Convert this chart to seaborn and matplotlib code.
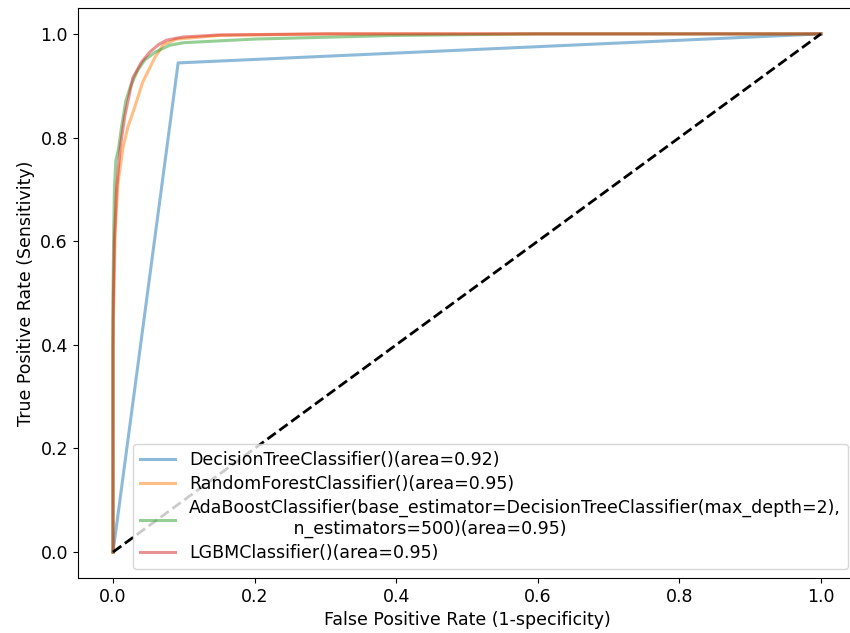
import pandas as pd
import seaborn as sns
import matplotlib.pyplot as plt

# ROC points
dt_fpr = [0.0, 0.092, 1.0]
dt_tpr = [0.0, 0.944, 1.0]

rf_fpr = [0.0, 0.0, 0.003, 0.007, 0.014, 0.021, 0.031, 0.042, 0.059, 0.071, 0.09, 0.15, 0.3, 1.0]
rf_tpr = [0.0, 0.40, 0.616, 0.712, 0.78, 0.82, 0.86, 0.907, 0.954, 0.979, 0.99, 0.997, 1.0, 1.0]

ada_fpr = [0.0, 0.0, 0.001, 0.002, 0.004, 0.008, 0.012, 0.018, 0.025, 0.035, 0.045, 0.06, 0.08, 0.1, 0.2, 0.4, 0.6, 1.0]
ada_tpr = [0.0, 0.50, 0.62, 0.70, 0.755, 0.78, 0.82, 0.87, 0.90, 0.93, 0.95, 0.965, 0.978, 0.983, 0.99, 0.997, 1.0, 1.0]

lgbm_fpr = [0.0, 0.0, 0.002, 0.005, 0.01, 0.017, 0.028, 0.04, 0.052, 0.065, 0.076, 0.099, 0.151, 0.3, 1.0]
lgbm_tpr = [0.0, 0.45, 0.60, 0.70, 0.78, 0.844, 0.915, 0.945, 0.965, 0.98, 0.988, 0.994, 0.998, 1.0, 1.0]

names = [
    "DecisionTreeClassifier()",
    "RandomForestClassifier()",
    "AdaBoostClassifier(base_estimator=DecisionTreeClassifier(max_depth=2),\n"
    "                   n_estimators=500)",
    "LGBMClassifier()",
]
aucs = [0.92, 0.95, 0.95, 0.95]
curves = [(dt_fpr, dt_tpr), (rf_fpr, rf_tpr), (ada_fpr, ada_tpr), (lgbm_fpr, lgbm_tpr)]
colors = ["tab:blue", "tab:orange", "tab:green", "tab:red"]

plt.rcParams['font.size'] = 12.5

fig = plt.figure(figsize=(8.5, 6.33), dpi=100)
ax = fig.add_axes([0.0913, 0.0869, 0.9162, 0.9005])

for (fpr, tpr), name, auc, c in zip(curves, names, aucs, colors):
    df = pd.DataFrame({"fpr": fpr, "tpr": tpr})
    sns.lineplot(data=df, x="fpr", y="tpr", sort=False, estimator=None,
                 color=c, alpha=0.5, lw=2.2, label=f"{name}(area={auc:.2f})", ax=ax)

ax.plot([0, 1], [0, 1], "k--", lw=2)

ax.set_xlabel("False Positive Rate (1-specificity)")
ax.set_ylabel("True Positive Rate (Sensitivity)")
ax.legend(loc="lower right", fontsize=12.5, labelspacing=0.35)

plt.savefig("out.png", dpi=100)
